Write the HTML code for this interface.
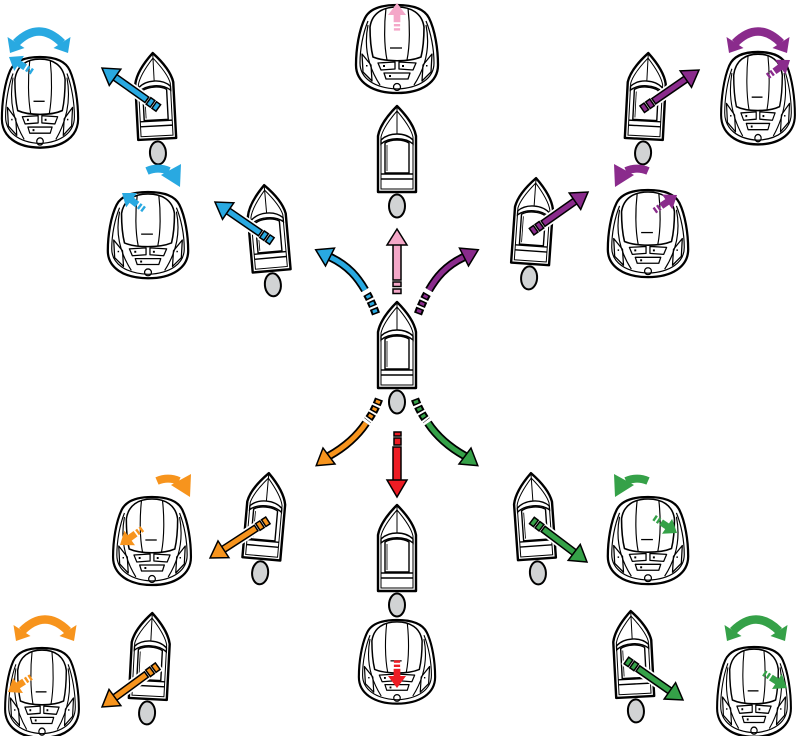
<!DOCTYPE html>
<html>
<head>
<meta charset="utf-8">
<style>
html,body{margin:0;padding:0;background:#fff;}
svg{display:block;}
</style>
</head>
<body>
<svg width="797" height="736" viewBox="0 0 797 736" xmlns="http://www.w3.org/2000/svg">
<defs>
  <g id="boat">
    <ellipse cx="0" cy="56" rx="8" ry="11.5" fill="#d1d3d4" stroke="#000" stroke-width="2"/>
    <path d="M0,-44 C8,-36 17,-25 19,-14 L19,42 L-19,42 L-19,-14 C-17,-25 -8,-36 0,-44Z" fill="#fff" stroke="#000" stroke-width="2.4" stroke-linejoin="round"/>
    <path d="M0,-39 C6,-32 14,-22 16,-13 L16,39 L-16,39 L-16,-13 C-14,-22 -6,-32 0,-39Z" fill="none" stroke="#000" stroke-width="1"/>
    <path d="M0,-44 L0,-16" stroke="#000" stroke-width="1"/>
    <path d="M-16,-10 C-8,-18 8,-18 16,-10 L16,-6 C8,-13 -8,-13 -16,-6Z" fill="#fff" stroke="#000" stroke-width="1.4"/>
    <path d="M-12,-7 C-6,-11 6,-11 12,-7 L12,23 L-12,23Z" fill="none" stroke="#000" stroke-width="1.4"/>
    <path d="M-10,-5 L-10,21" stroke="#000" stroke-width="0.8"/>
    <path d="M-16,24 L16,24 M-16,29 L16,29" stroke="#000" stroke-width="1.4"/>
  </g>

  <g id="joy" fill="none" stroke="#000" stroke-linejoin="round">
    <path d="M0,0 C18,0 28,5 32,13 C38,25 41,44 41,60 C41,77 25,88 0,88 C-25,88 -41,77 -41,60 C-41,44 -38,25 -32,13 C-28,5 -18,0 0,0Z" fill="#fff" stroke-width="2.3"/>
    <path d="M-29,16 C-34,28 -37,44 -37,58 C-37,73 -23,83 0,84 C23,83 37,73 37,58 C37,44 34,28 29,16" stroke-width="1.2"/>
    <path d="M-29,20 C-33,40 -30,60 -17,80 M29,20 C33,40 30,60 17,80" stroke-width="1.2"/>
    <path d="M-27,22 C-25,8 -14,2 0,2 C14,2 25,8 27,22 C27,34 26,44 24,52 C12,57 -12,57 -24,52 C-26,44 -27,34 -27,22Z" fill="#fff" stroke-width="1.6"/>
    <path d="M-11,3 C-13,20 -13,40 -10,55 M11,3 C13,20 13,40 10,55" stroke-width="1.2"/>
    <path d="M-7,43 L5,43" stroke-width="1.3"/>
    <path d="M-35,49 L-26,60 L-25,76 L-34,67Z" stroke-width="1.3"/>
    <path d="M35,49 L26,60 L25,76 L34,67Z" stroke-width="1.3"/>
    <path d="M-19,58 L-2,57 L-2,64 L-16,65Z" stroke-width="1.3"/>
    <path d="M19,58 L2,57 L2,64 L16,65Z" stroke-width="1.3"/>
    <path d="M-13,68 L13,68 L11,74 L-11,74Z" stroke-width="1.3"/>
    <rect x="-14" y="60" width="2" height="2" fill="#000" stroke="none"/>
    <rect x="5" y="60" width="2" height="2" fill="#000" stroke="none"/>
    <rect x="-8" y="70" width="2" height="2" fill="#000" stroke="none"/>
    <rect x="-31" y="60" width="1.5" height="1.5" fill="#000" stroke="none"/>
    <rect x="29" y="60" width="1.5" height="1.5" fill="#000" stroke="none"/>
    <circle cx="0" cy="82" r="3.5" stroke-width="1.3"/>
  </g>

  <g id="ba">
    <g fill="#fff" stroke="#fff" stroke-width="5" stroke-linejoin="round">
      <rect x="0" y="-4" width="12" height="8"/>
      <rect x="14" y="-3.3" width="40" height="6.6"/>
      <polygon points="53,-10 69,0 53,10"/>
    </g>
    <g stroke="#000" stroke-width="1.5">
      <rect x="0" y="-4" width="5" height="8"/>
      <rect x="7" y="-4" width="5" height="8"/>
      <rect x="14" y="-3.3" width="40" height="6.6"/>
      <polygon points="53,-10 69,0 53,10"/>
    </g>
  </g>

  <g id="sa">
    <rect x="0" y="-2.6" width="2" height="5.2"/>
    <rect x="3.5" y="-2.6" width="2" height="5.2"/>
    <rect x="7" y="-2.8" width="7" height="5.6"/>
    <polygon points="13,-7.5 23,0 13,7.5"/>
  </g>

  <g id="rot">
    <path d="M-23,17 Q0,-6 23,17" fill="none" stroke-width="8.5"/>
    <polygon points="-29,27 -14.5,22 -31.5,11" stroke="none"/>
    <polygon points="29,27 14.5,22 31.5,11" stroke="none"/>
  </g>
</defs>

<!-- BOATS -->
<use href="#boat" transform="translate(397,346)"/>
<use href="#boat" transform="translate(397,150)"/>
<use href="#boat" transform="translate(397,549)"/>
<use href="#boat" transform="translate(155,97) rotate(-3)"/>
<use href="#boat" transform="translate(268,229) rotate(-5)"/>
<use href="#boat" transform="translate(646,97) rotate(3)"/>
<use href="#boat" transform="translate(533,222) rotate(4)"/>
<use href="#boat" transform="translate(265,517) rotate(5)"/>
<use href="#boat" transform="translate(534,517) rotate(-4)"/>
<use href="#boat" transform="translate(150,657) rotate(3)"/>
<use href="#boat" transform="translate(633,655) rotate(-3)"/>

<!-- JOYSTICKS -->
<use href="#joy" transform="translate(40,57) scale(0.93,1.03)"/>
<use href="#joy" transform="translate(397,5)"/>
<use href="#joy" transform="translate(758,52) scale(0.9,1.05)"/>
<use href="#joy" transform="translate(148,192) scale(0.98,0.98)"/>
<use href="#joy" transform="translate(648,190) scale(0.98,0.99)"/>
<use href="#joy" transform="translate(152,497) scale(0.95,1)"/>
<use href="#joy" transform="translate(648,497) scale(0.98,0.99)"/>
<use href="#joy" transform="translate(42,648) scale(0.9,1.02)"/>
<use href="#joy" transform="translate(397,620) scale(0.93,0.95)"/>
<use href="#joy" transform="translate(754,647) scale(0.9,1.02)"/>

<!-- CENTRAL STRAIGHT ARROWS -->
<g stroke="#000" stroke-width="1.5" fill="#f4a7c8">
  <rect x="393" y="282" width="8" height="4.5"/>
  <rect x="393" y="289" width="8" height="4.5"/>
  <rect x="393" y="244" width="8" height="36"/>
  <polygon points="397,229 407,245 387,245"/>
</g>
<g stroke="#000" stroke-width="1.5" fill="#ed1c24">
  <rect x="394" y="432" width="7" height="4"/>
  <rect x="394" y="438" width="7" height="7"/>
  <rect x="393" y="447" width="8" height="34"/>
  <polygon points="387,480 407,480 397,497"/>
</g>

<!-- CENTRAL CURVED ARROWS -->
<g fill="none">
  <path d="M376,314 C373,306 370,299 366.5,293" stroke="#000" stroke-width="8.5" stroke-dasharray="6 2"/>
  <path d="M376,314 C373,306 370,299 366.5,293" stroke="#29a9e1" stroke-width="4.5" stroke-dasharray="0 1.5 3 3.5"/>
  <path d="M365,290 C358,278 349,266 330,257" stroke="#000" stroke-width="8.5"/>
  <path d="M365,290 C358,278 349,266 330,257" stroke="#29a9e1" stroke-width="5"/>
</g>
<polygon points="315.7,249.8 334.5,248.1 325.5,265.9" fill="#29a9e1" stroke="#000" stroke-width="1.5"/>
<g fill="none">
  <path d="M418,314 C421,306 424,299 427.5,293" stroke="#000" stroke-width="8.5" stroke-dasharray="6 2"/>
  <path d="M418,314 C421,306 424,299 427.5,293" stroke="#8a2b8c" stroke-width="4.5" stroke-dasharray="0 1.5 3 3.5"/>
  <path d="M429,290 C436,278 445,266 464,257" stroke="#000" stroke-width="8.5"/>
  <path d="M429,290 C436,278 445,266 464,257" stroke="#8a2b8c" stroke-width="5"/>
</g>
<polygon points="478.3,249.8 459.5,248.1 468.5,265.9" fill="#8a2b8c" stroke="#000" stroke-width="1.5"/>
<g fill="none">
  <path d="M379,399 C376,407 372,415 367.5,420.5" stroke="#000" stroke-width="8.5" stroke-dasharray="6 2"/>
  <path d="M379,399 C376,407 372,415 367.5,420.5" stroke="#f7941d" stroke-width="4.5" stroke-dasharray="0 1.5 3 3.5"/>
  <path d="M366,423 C358,435 345,447 329,456" stroke="#000" stroke-width="8.5"/>
  <path d="M366,423 C358,435 345,447 329,456" stroke="#f7941d" stroke-width="5"/>
</g>
<polygon points="316.2,465.6 323,448 335,464" fill="#f7941d" stroke="#000" stroke-width="1.5"/>
<g fill="none">
  <path d="M415,399 C418,407 422,415 426.5,420.5" stroke="#000" stroke-width="8.5" stroke-dasharray="6 2"/>
  <path d="M415,399 C418,407 422,415 426.5,420.5" stroke="#35a148" stroke-width="4.5" stroke-dasharray="0 1.5 3 3.5"/>
  <path d="M428,423 C436,435 449,447 465,456" stroke="#000" stroke-width="8.5"/>
  <path d="M428,423 C436,435 449,447 465,456" stroke="#35a148" stroke-width="5"/>
</g>
<polygon points="477.8,465.6 471,448 459,464" fill="#35a148" stroke="#000" stroke-width="1.5"/>

<!-- BOAT ARROWS -->
<use href="#ba" fill="#29a9e1" transform="translate(158.3,107.9) rotate(-144.7)"/>
<use href="#ba" fill="#29a9e1" transform="translate(271.9,241) rotate(-145.6)"/>
<use href="#ba" fill="#8a2b8c" transform="translate(642.2,109.2) rotate(-34.6)"/>
<use href="#ba" fill="#8a2b8c" transform="translate(531.6,231.7) rotate(-35.1)"/>
<use href="#ba" fill="#f7941d" transform="translate(267.9,520.4) rotate(147)"/>
<use href="#ba" fill="#35a148" transform="translate(531.9,520.5) rotate(37)"/>
<use href="#ba" fill="#f7941d" transform="translate(157.7,666.2) rotate(143.8)"/>
<use href="#ba" fill="#35a148" transform="translate(626.4,660.5) rotate(34.9)"/>

<!-- SMALL JOYSTICK ARROWS (tip-anchored) -->
<use href="#sa" fill="#29a9e1" transform="translate(9,57) rotate(-147.5) scale(1.2) translate(-23,0)"/>
<use href="#sa" fill="#f4a7c8" transform="translate(397,3) rotate(-90) scale(1.2) translate(-23,0)"/>
<use href="#sa" fill="#8a2b8c" transform="translate(790,60) rotate(-36) scale(1.2) translate(-23,0)"/>
<use href="#sa" fill="#29a9e1" transform="translate(122,193) rotate(-143) scale(1.2) translate(-23,0)"/>
<use href="#sa" fill="#8a2b8c" transform="translate(677,195) rotate(-35) scale(1.2) translate(-23,0)"/>
<use href="#sa" fill="#f7941d" transform="translate(120,545) rotate(144) scale(1.2) translate(-23,0)"/>
<use href="#sa" fill="#35a148" transform="translate(677,533) rotate(34) scale(1.2) translate(-23,0)"/>
<use href="#sa" fill="#f7941d" transform="translate(8,692) rotate(147) scale(1.2) translate(-23,0)"/>
<use href="#sa" fill="#ed1c24" transform="translate(397,688) rotate(90) scale(1.2) translate(-23,0)"/>
<use href="#sa" fill="#35a148" transform="translate(787,688) rotate(33) scale(1.2) translate(-23,0)"/>

<!-- ROTATION ARROWS (double) -->
<use href="#rot" fill="#29a9e1" stroke="#29a9e1" transform="translate(39,26)"/>
<use href="#rot" fill="#8a2b8c" stroke="#8a2b8c" transform="translate(758,26)"/>
<use href="#rot" fill="#f7941d" stroke="#f7941d" transform="translate(45,614)"/>
<use href="#rot" fill="#35a148" stroke="#35a148" transform="translate(756,614)"/>

<!-- ROTATION ARROWS (single) -->
<path d="M147,171 C154,168 162,168 169,171" fill="none" stroke="#29a9e1" stroke-width="8"/>
<polygon points="161,175 181,164 180,187" fill="#29a9e1"/>
<path d="M648,171 C641,168 633,168 626,171" fill="none" stroke="#8a2b8c" stroke-width="8"/>
<polygon points="634,175 614,164 615,187" fill="#8a2b8c"/>
<path d="M157,481 C164,478 172,478 179,481" fill="none" stroke="#f7941d" stroke-width="8"/>
<polygon points="171,485 191,474 190,497" fill="#f7941d"/>
<path d="M648,481 C641,478 633,478 626,481" fill="none" stroke="#35a148" stroke-width="8"/>
<polygon points="634,485 614,474 615,497" fill="#35a148"/>
</svg>
</body>
</html>
